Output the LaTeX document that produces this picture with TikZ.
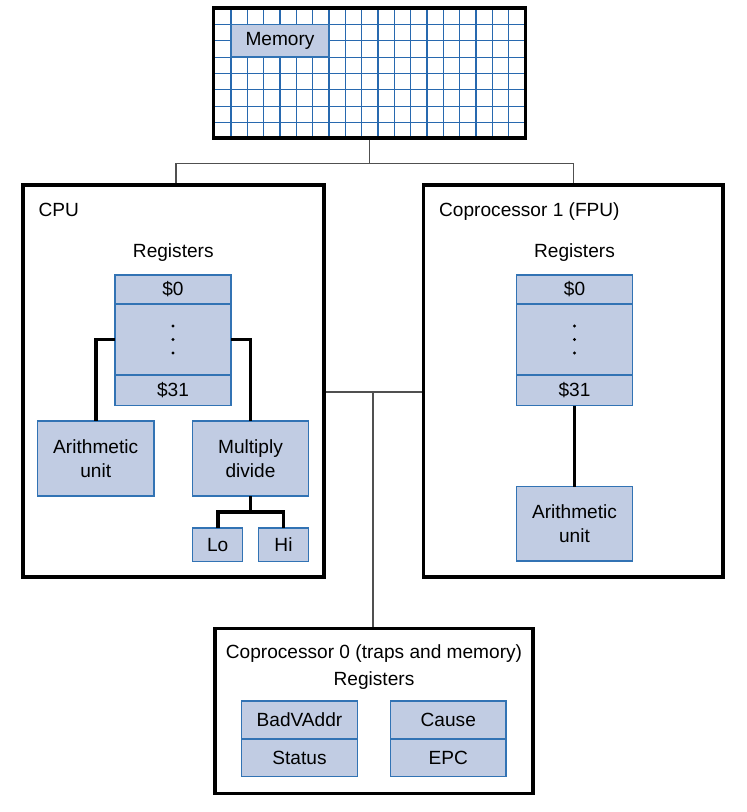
\documentclass[tikz,border=0pt]{standalone}
\usepackage{fontspec}
\setmainfont{Liberation Sans}
\usetikzlibrary{positioning}

\definecolor{regfill}{RGB}{193,204,227}
\definecolor{regline}{RGB}{50,115,180}
\definecolor{gridblue}{RGB}{40,105,175}
\definecolor{busgray}{RGB}{80,80,80}

\begin{document}
\begin{tikzpicture}[x=1pt, y=-1pt,
  font=\fontsize{19.1}{23.4}\selectfont,
  frame/.style={draw, line width=3.2pt, inner sep=0pt},
  unit/.style={draw=regline, fill=regfill, line width=1.2pt, inner sep=0pt, outer sep=0pt, align=center},
  reg/.style={unit, minimum width=116pt},
  title/.style={inner sep=0pt},
  link/.style={line width=3.8pt},
  bus/.style={draw=busgray, line width=1.2pt},
  gridline/.style={draw=gridblue, line width=1.1pt}]

 \useasboundingbox (0,0) rectangle (747,812);

 % memory
 \foreach \i in {0,...,17} \draw[gridline] (231+\i*16.33,8) -- (231+\i*16.33,138);
 \foreach \j in {0,...,6}  \draw[gridline] (213.5,24.3+\j*16.4) -- (525.5,24.3+\j*16.4);
 \node[frame, minimum width=312pt, minimum height=130pt,      name=mem]      at (369.5,73)   {};
 \node[unit,  minimum width=98pt,  minimum height=32.7pt,     name=memlabel] at (280,40.6)   {Memory};

 % processors
 \node[frame, minimum width=301pt,   minimum height=392pt,    name=cpu]      at (173.5,381)  {};
 \node[frame, minimum width=299.5pt, minimum height=392pt,    name=fpu]      at (573.25,381) {};
 \node[frame, minimum width=318pt,   minimum height=165pt,    name=cp0]      at (374,710.8)  {};

 \node[title, anchor=base west, name=cputitle]    at (38.3,216)  {CPU};
 \node[title, anchor=base west, name=fputitle]    at (439,216)   {Coprocessor 1 (FPU)};
 \node[title, anchor=base,      name=cpuregtitle] at (173.3,257.3) {Registers};
 \node[title, anchor=base,      name=fpuregtitle] at (574.5,257.3) {Registers};
 \node[title, anchor=base,      name=cp0title]    at (374,658)   {Coprocessor 0 (traps and memory)};
 \node[title, anchor=base,      name=cp0regtitle] at (374,685)   {Registers};

 % CPU
 \node[reg, minimum height=29pt,                          name=cpu0]    at (173,289.5) {\$0};
 \node[reg, minimum height=71pt,   below=0pt of cpu0,     name=cpudots]              {};
 \node[reg, minimum height=30.5pt, below=0pt of cpudots,  name=cpu31]                {\$31};
 \foreach \d in {-13.5,0,13.5} \fill (cpudots.center) ++(0,\d) circle (1.6pt);

 \node[unit, minimum width=116.7pt, minimum height=75pt,   name=cpualu]  at (95.7,458.5)  {Arithmetic\\unit};
 \node[unit, minimum width=116.4pt, minimum height=75pt,   name=muldiv]  at (250.5,458.5) {Multiply\\divide};
 \node[unit, minimum width=50pt,    minimum height=33.7pt, name=lo]      at (217.7,544.8) {Lo};
 \node[unit, minimum width=50.4pt,  minimum height=33.7pt, name=hi]      at (283.5,544.8) {Hi};

 % FPU
 \node[reg, minimum height=29pt,                          name=fpu0]    at (574.5,289.5) {\$0};
 \node[reg, minimum height=71pt,   below=0pt of fpu0,     name=fpudots]              {};
 \node[reg, minimum height=30.5pt, below=0pt of fpudots,  name=fpu31]                {\$31};
 \foreach \d in {-13.5,0,13.5} \fill (fpudots.center) ++(0,\d) circle (1.6pt);

 \node[unit, minimum width=116pt, minimum height=74.3pt,   name=fpualu]  at (574.5,523.8) {Arithmetic\\unit};

 % coprocessor 0
 \node[unit, minimum width=115.6pt, minimum height=38pt,                          name=badvaddr] at (299.5,720) {BadVAddr};
 \node[unit, minimum width=115.6pt, minimum height=37.7pt, below=0pt of badvaddr, name=status]                {Status};
 \node[unit, minimum width=115.3pt, minimum height=38pt,                          name=cause]    at (448.3,720) {Cause};
 \node[unit, minimum width=115.3pt, minimum height=37.7pt, below=0pt of cause,    name=epc]                   {EPC};

 % datapaths
 \draw[link] (cpudots.west) -| (cpualu.north);
 \draw[link] (cpudots.east) -| (muldiv.north);
 \path (muldiv.south) ++(0,16) coordinate (mdjoin);
 \draw[link] (muldiv.south) -- (mdjoin);
 \draw[link] (lo.north) |- (mdjoin) -| (hi.north);
 \draw[link] (fpu31.south) -- (fpualu.north);

 % buses
 \path (mem.south) ++(0,23.5) coordinate (membus);
 \coordinate (busjoin) at (373,392);
 \draw[bus] (mem.south) -- (membus);
 \draw[bus] ([xshift=2.5pt]cpu.north) |- (membus) -| (fpu.north);
 \draw[bus] (cpu.east |- busjoin) -- (fpu.west |- busjoin);
 \draw[bus] (busjoin) -- (busjoin |- cp0.north);
\end{tikzpicture}
\end{document}
